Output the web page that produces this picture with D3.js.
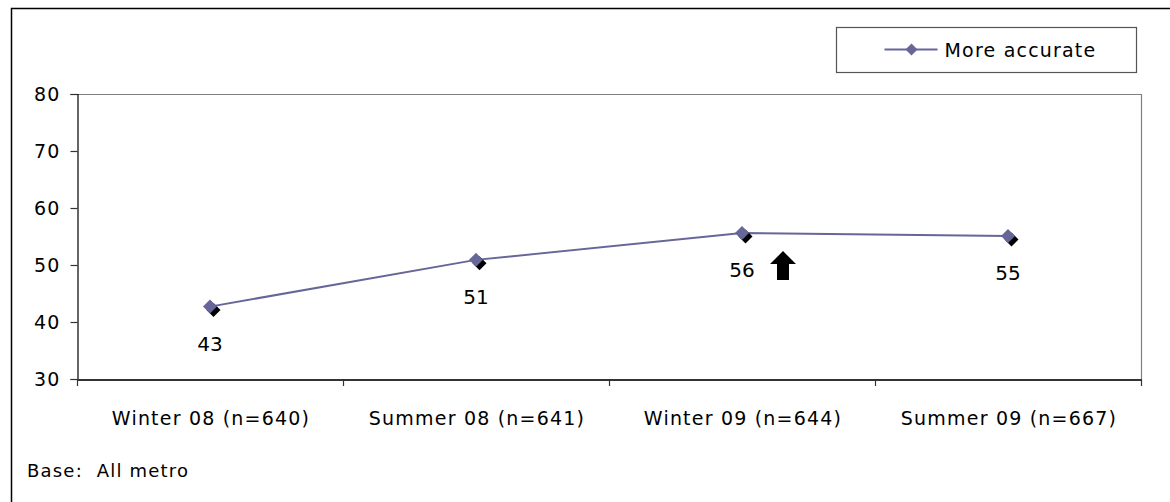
<!DOCTYPE html>
<html>
<head>
<meta charset="utf-8">
<script src="https://cdn.jsdelivr.net/npm/d3@7"></script>
<style>
  html, body { margin: 0; padding: 0; background: #fff; }
  svg { display: block; }
  text { font-family: "DejaVu Sans", sans-serif; fill: #000; }
  .wide { letter-spacing: 1.2px; white-space: pre; }
</style>
</head>
<body>
<script>
// Survey waves and share answering "More accurate"
const categories = ["Winter 08 (n=640)", "Summer 08 (n=641)", "Winter 09 (n=644)", "Summer 09 (n=667)"];
const moreAccurate = [42.7, 50.9, 55.6, 55.1];
const yTicks = [30, 40, 50, 60, 70, 80];
const seriesName = "More accurate";
const baseNote = "Base:  All metro";
// wave flagged with a significant rise
const flaggedWave = "Winter 09 (n=644)";

const W = 1170, H = 502;
const margin = { left: 77, right: 29, top: 94, bottom: 123 };
const lineColor = "#666699";

const svg = d3.select("body").append("svg").attr("width", W).attr("height", H);

// outer chart frame (open on the right and bottom)
svg.append("path")
  .attr("d", `M11.5,${H} V8.5 H${W}`)
  .attr("fill", "none").attr("stroke", "#000").attr("stroke-width", 1.5);

const x = d3.scaleBand().domain(categories).range([margin.left, W - margin.right]).padding(0);
const y = d3.scaleLinear().domain([30, 80]).range([H - margin.bottom, margin.top]);

const x0 = margin.left, x1 = W - margin.right;
const yTop = y(80), yBot = y(30);

// plot area frame: top and right edges
svg.append("path")
  .attr("d", `M${x0},${yTop + 0.5} H${x1 + 0.5} V${yBot}`)
  .attr("fill", "none").attr("stroke", "#808080").attr("stroke-width", 1.2);

// y axis
const yAxis = svg.append("g")
  .attr("transform", `translate(${x0 + 0.5},0)`)
  .call(d3.axisLeft(y).tickValues(yTicks).tickSize(7).tickPadding(9));
yAxis.select(".domain").attr("stroke", "#000").attr("stroke-width", 1.2);
yAxis.selectAll(".tick line").attr("stroke", "#333").attr("stroke-width", 1.2);
yAxis.selectAll("text").attr("class", "wide").style("font-size", "19px").attr("fill", "#000")
  .attr("dx", "-1px");

// x axis with ticks on category boundaries
const xAxis = svg.append("g")
  .attr("transform", `translate(0,${yBot + 0.5})`)
  .call(d3.axisBottom(x).tickSize(0).tickPadding(32));
xAxis.select(".domain").attr("stroke", "#333").attr("stroke-width", 2);
xAxis.selectAll("text").attr("class", "wide").style("font-size", "19px").attr("fill", "#000")
  .attr("dx", "1px");
const bounds = categories.map(c => x(c)).concat([x1]);
svg.append("g").selectAll("line").data(bounds).join("line")
  .attr("x1", d => d + 0.5).attr("x2", d => d + 0.5)
  .attr("y1", yBot).attr("y2", yBot + 7)
  .attr("stroke", "#333").attr("stroke-width", 1.2);

const cx = c => x(c) + x.bandwidth() / 2;

// series line
const line = d3.line().x((d, i) => cx(categories[i])).y(d => y(d));
svg.append("path").datum(moreAccurate)
  .attr("d", line).attr("fill", "none")
  .attr("stroke", lineColor).attr("stroke-width", 2);

// diamond markers with dark drop shadow
const diamond = s => `M0,${-s} L${s},0 L0,${s} L${-s},0 Z`;
const pts = svg.append("g").selectAll("g").data(moreAccurate).join("g")
  .attr("transform", (d, i) => `translate(${cx(categories[i])},${y(d)})`);
pts.append("path").attr("d", diamond(7)).attr("transform", "translate(3.5,3.5)").attr("fill", "#000");
pts.append("path").attr("d", diamond(7)).attr("fill", lineColor);

// value labels under each point
svg.append("g").selectAll("text").data(moreAccurate).join("text")
  .attr("x", (d, i) => cx(categories[i]))
  .attr("y", d => y(d) + 44)
  .attr("text-anchor", "middle")
  .style("font-size", "20px")
  .text(d => d3.format(".0f")(d));

// upward arrow beside the flagged wave
const ai = categories.indexOf(flaggedWave);
const ax = cx(flaggedWave) + 41, ay = y(moreAccurate[ai]) + 18;
svg.append("path")
  .attr("d", `M${ax},${ay} L${ax + 13},${ay + 13} L${ax + 6},${ay + 13} L${ax + 6},${ay + 29} L${ax - 6},${ay + 29} L${ax - 6},${ay + 13} L${ax - 13},${ay + 13} Z`)
  .attr("fill", "#000");

// legend
const lg = svg.append("g").attr("transform", "translate(836.5,27.5)");
lg.append("rect").attr("width", 300).attr("height", 45)
  .attr("fill", "#fff").attr("stroke", "#555").attr("stroke-width", 1.2);
lg.append("line").attr("x1", 48).attr("x2", 101).attr("y1", 22).attr("y2", 22)
  .attr("stroke", lineColor).attr("stroke-width", 2);
lg.append("path").attr("d", diamond(6)).attr("transform", "translate(75,22)").attr("fill", lineColor);
lg.append("text").attr("class", "wide").attr("x", 108).attr("y", 29).style("font-size", "19px").text(seriesName);

// base note
svg.append("text").attr("class", "wide").attr("x", 27).attr("y", 477).style("font-size", "18px").text(baseNote);
</script>
</body>
</html>
